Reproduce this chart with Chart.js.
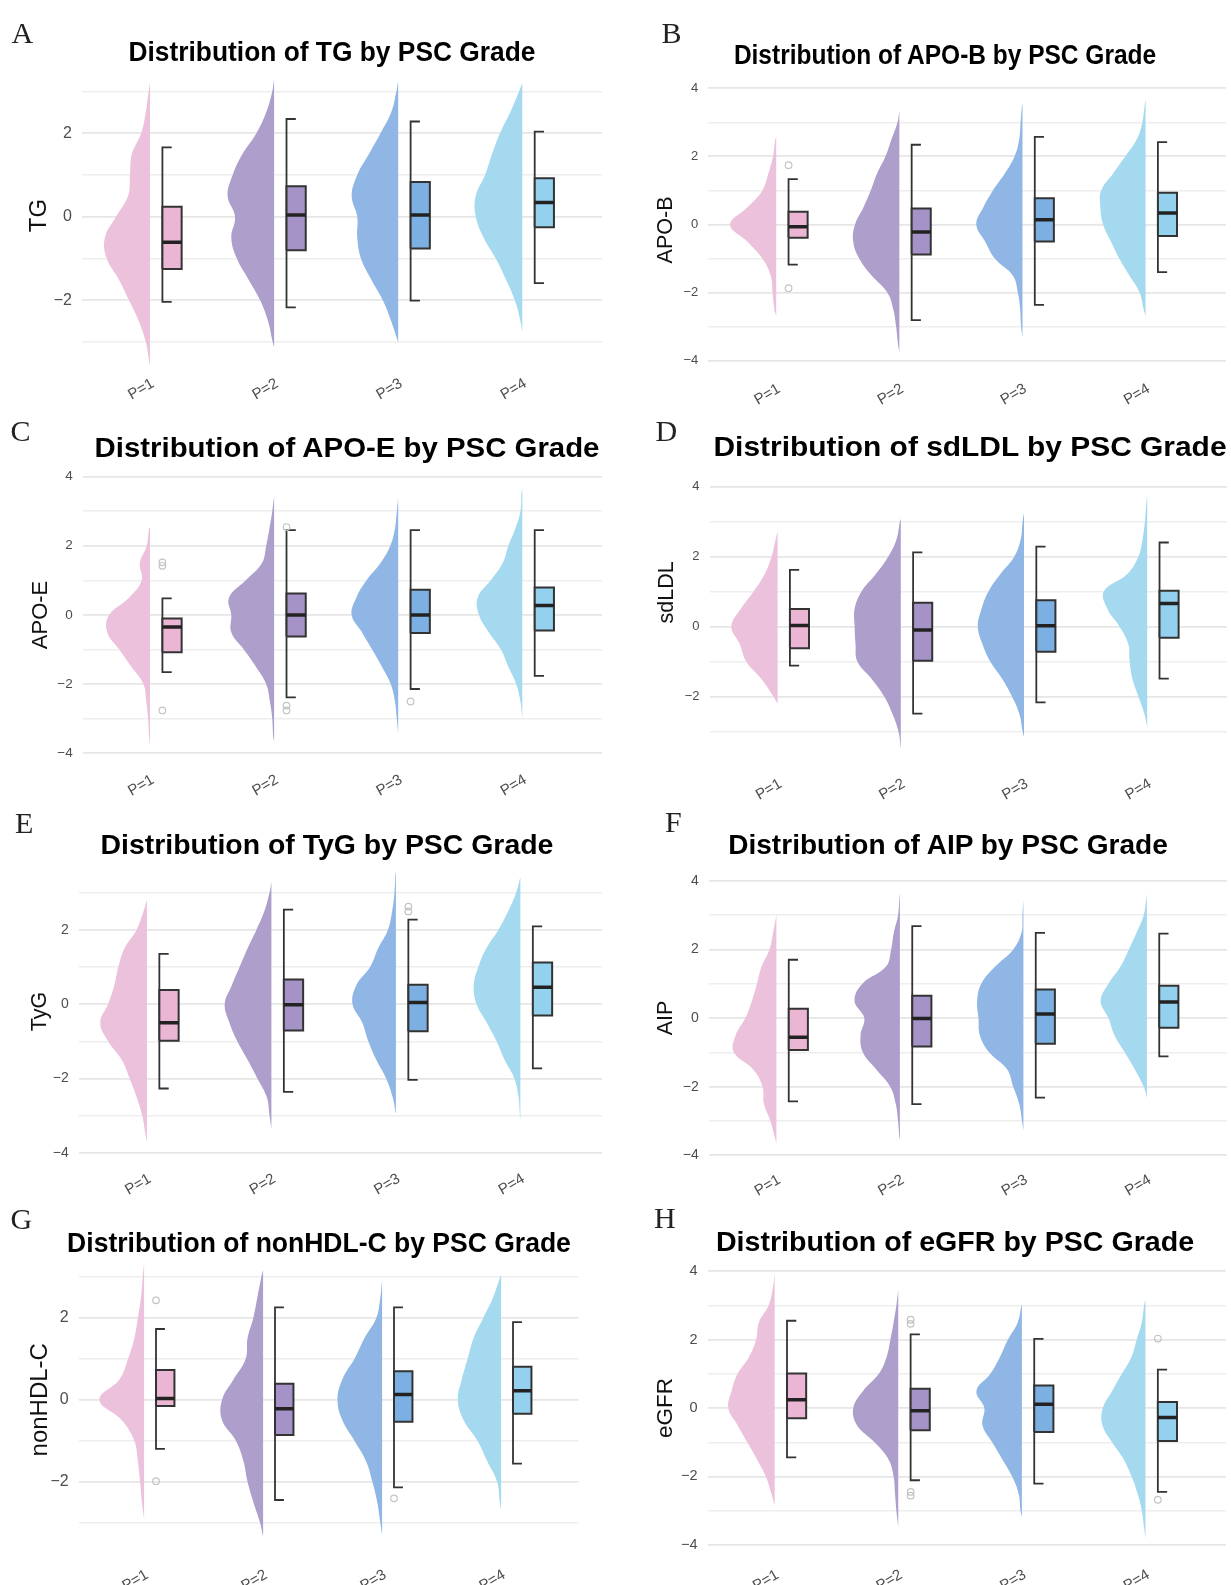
<!DOCTYPE html>
<html>
<head>
<meta charset="utf-8">
<script src="https://cdn.jsdelivr.net/npm/chart.js@4.4.0/dist/chart.umd.min.js"></script>
<style>
    html, body { margin: 0; padding: 0; background: #fff; }
    #page { position: relative; width: 1231px; height: 1585px; overflow: hidden; background: #fff; }
    #page canvas { position: absolute; }
    .ttl { position: absolute; font: bold 27px "Liberation Sans", Arial, sans-serif; line-height: 1; white-space: nowrap; color: #000; }
    .tag { position: absolute; font: 30px "Liberation Serif", "Times New Roman", serif; line-height: 1; color: #222; transform: translateY(-50%); }
</style>
</head>
<body>
<div id="page"></div>
<script>
// categories and the y levels the violin widths were read at
const grades = ['P=1', 'P=2', 'P=3', 'P=4'];
const levels = [-3.5, -3, -2.5, -2, -1.5, -1, -0.5, 0, 0.5, 1, 1.5, 2, 2.5, 3, 3.5];

// A - TG
const tgTicks = [-3, -2, -1, 0, 1, 2, 3];
const tgLo = [-3.56, -3.13, -3.0, -2.77];
const tgHi = [3.2, 3.3, 3.25, 3.2];
const tgDens = [
    [1, 9, 24, 45, 67, 93, 97, 73, 47, 43, 39, 19, 9, 3, 0],
    [0, 3, 13, 30, 55, 80, 92, 84, 100, 89, 68, 38, 17, 4, 0],
    [0, 2, 15, 33, 58, 80, 88, 88, 100, 88, 63, 38, 15, 4, 0],
    [0, 0, 4, 16, 35, 57, 83, 100, 100, 80, 65, 48, 26, 7, 0]
];
const tgBox = [[-2.04, -1.25, -0.61, 0.24, 1.66], [-2.17, -0.80, 0.04, 0.73, 2.34], [-2.01, -0.76, 0.04, 0.83, 2.28], [-1.59, -0.25, 0.34, 0.92, 2.04]];
const tgOut = [[], [], [], []];

// B - APO-B
const apobTicks = [-4, -3, -2, -1, 0, 1, 2, 3, 4];
const apobLo = [-2.68, -3.75, -3.31, -2.68];
const apobHi = [2.56, 3.34, 3.53, 3.68];
const apobDens = [
    [0, 0, 4, 8, 12, 30, 63, 100, 63, 30, 17, 7, 2, 0, 0],
    [3, 7, 13, 26, 60, 87, 100, 96, 78, 62, 48, 30, 17, 4, 0],
    [0, 3, 5, 10, 21, 60, 81, 100, 85, 64, 38, 17, 7, 4, 1],
    [0, 0, 4, 13, 35, 57, 75, 92, 98, 96, 70, 44, 19, 7, 2]
];
const apobBox = [[-1.18, -0.39, -0.07, 0.37, 1.33], [-2.81, -0.88, -0.22, 0.47, 2.34], [-2.36, -0.50, 0.14, 0.77, 2.57], [-1.40, -0.34, 0.34, 0.93, 2.42]];
const apobOut = [[1.74, -1.87], [], [], []];

// C - APO-E
const apoeTicks = [-4, -3, -2, -1, 0, 1, 2, 3, 4];
const apoeLo = [-3.8, -3.67, -3.43, -3.0];
const apoeHi = [2.52, 3.43, 3.38, 3.67];
const apoeDens = [
    [2, 4, 8, 14, 40, 66, 92, 88, 45, 18, 22, 7, 2, 0, 0],
    [2, 4, 9, 17, 39, 65, 92, 92, 97, 61, 26, 17, 10, 4, 0],
    [0, 3, 7, 16, 35, 56, 78, 100, 90, 68, 38, 17, 7, 3, 0],
    [0, 0, 4, 13, 30, 46, 72, 93, 96, 68, 42, 30, 15, 4, 2]
];
const apoeBox = [[-1.65, -1.08, -0.35, -0.10, 0.48], [-2.38, -0.62, 0.0, 0.62, 2.45], [-2.14, -0.52, 0.0, 0.73, 2.45], [-1.76, -0.45, 0.27, 0.79, 2.45]];
const apoeOut = [[1.52, 1.42, -2.76], [2.54, -2.62, -2.76], [-2.5], []];

// D - sdLDL
const sdldlTicks = [-3, -2, -1, 0, 1, 2, 3, 4];
const sdldlLo = [-2.21, -3.48, -3.15, -2.87];
const sdldlHi = [2.73, 3.08, 3.26, 3.76];
const sdldlDens = [
    [0, 0, 0, 9, 35, 68, 82, 100, 80, 52, 28, 13, 4, 0, 0],
    [1, 5, 18, 36, 63, 94, 98, 100, 100, 85, 54, 27, 9, 2, 0],
    [0, 3, 10, 26, 47, 73, 90, 100, 92, 77, 51, 21, 7, 3, 0],
    [0, 0, 6, 19, 32, 38, 41, 60, 86, 94, 43, 19, 10, 5, 2]
];
const sdldlBox = [[-1.12, -0.62, 0.03, 0.50, 1.62], [-2.49, -0.98, -0.10, 0.68, 2.12], [-2.17, -0.72, 0.02, 0.75, 2.28], [-1.49, -0.32, 0.66, 1.02, 2.40]];
const sdldlOut = [[], [], [], []];

// E - TyG
const tygTicks = [-4, -3, -2, -1, 0, 1, 2, 3];
const tygLo = [-3.71, -3.35, -2.96, -3.09];
const tygHi = [2.8, 3.28, 3.55, 3.42];
const tygDens = [
    [3, 10, 22, 37, 54, 83, 100, 83, 70, 61, 48, 22, 7, 0, 0],
    [0, 4, 10, 30, 51, 73, 90, 100, 85, 68, 51, 32, 15, 4, 0],
    [0, 0, 7, 21, 42, 59, 72, 93, 85, 55, 38, 17, 8, 3, 1],
    [0, 1, 4, 13, 34, 51, 72, 94, 100, 90, 73, 47, 26, 9, 0]
];
const tygBox = [[-2.27, -0.99, -0.50, 0.38, 1.35], [-2.36, -0.71, -0.02, 0.66, 2.54], [-2.04, -0.73, 0.04, 0.52, 2.27], [-1.73, -0.31, 0.45, 1.12, 2.09]];
const tygOut = [[], [], [2.62, 2.49], []];

// F - AIP
const aipTicks = [-4, -3, -2, -1, 0, 1, 2, 3, 4];
const aipLo = [-3.66, -3.51, -3.27, -2.33];
const aipHi = [3.0, 3.64, 3.44, 3.64];
const aipDens = [
    [3, 13, 27, 30, 50, 92, 88, 67, 53, 42, 32, 15, 7, 0, 0],
    [1, 4, 9, 21, 51, 80, 85, 77, 98, 81, 30, 19, 13, 4, 1],
    [0, 3, 9, 22, 35, 74, 94, 97, 100, 91, 61, 22, 4, 2, 0],
    [0, 0, 0, 7, 26, 48, 70, 83, 100, 83, 57, 39, 22, 7, 1]
];
const aipBox = [[-2.43, -0.93, -0.56, 0.27, 1.70], [-2.51, -0.83, -0.01, 0.65, 2.68], [-2.32, -0.75, 0.12, 0.83, 2.48], [-1.12, -0.28, 0.47, 0.94, 2.46]];
const aipOut = [[], [], [], []];

// G - nonHDL-C
const nonhdlTicks = [-3, -2, -1, 0, 1, 2, 3];
const nonhdlLo = [-2.91, -3.35, -3.31, -2.71];
const nonhdlHi = [3.37, 3.17, 2.93, 3.05];
const nonhdlDens = [
    [0, 0, 5, 9, 14, 22, 50, 100, 55, 36, 22, 14, 7, 3, 0],
    [0, 7, 22, 35, 44, 61, 92, 92, 66, 39, 35, 22, 13, 4, 0],
    [0, 4, 11, 22, 36, 62, 89, 100, 89, 62, 40, 13, 4, 0, 0],
    [0, 0, 3, 9, 31, 53, 84, 97, 88, 75, 62, 40, 18, 2, 0]
];
const nonhdlBox = [[-1.20, -0.15, 0.03, 0.73, 1.73], [-2.45, -0.86, -0.22, 0.39, 2.26], [-2.14, -0.54, 0.13, 0.70, 2.26], [-1.56, -0.34, 0.22, 0.81, 1.90]];
const nonhdlOut = [[2.43, -1.99], [], [-2.41], []];

// H - eGFR
const egfrTicks = [-4, -3, -2, -1, 0, 1, 2, 3, 4];
const egfrLo = [-2.85, -3.47, -3.19, -3.81];
const egfrHi = [3.94, 3.46, 3.03, 3.18];
const egfrDens = [
    [0, 0, 7, 19, 38, 59, 80, 100, 93, 80, 55, 40, 34, 13, 4],
    [0, 4, 7, 10, 21, 51, 89, 97, 76, 42, 25, 17, 10, 4, 0],
    [0, 3, 7, 21, 42, 64, 85, 81, 98, 68, 47, 30, 9, 1, 0],
    [3, 8, 17, 30, 47, 72, 93, 92, 72, 51, 30, 19, 8, 3, 0]
];
const egfrBox = [[-1.44, -0.30, 0.24, 1.01, 2.55], [-2.11, -0.65, -0.08, 0.56, 2.15], [-2.21, -0.70, 0.11, 0.66, 2.02], [-2.45, -0.96, -0.28, 0.18, 1.12]];
const egfrOut = [[], [2.58, 2.46, -2.45, -2.56], [], [2.03, -2.68]];

const panels = [
    { tag: 'A', name: 'TG', ticks: tgTicks, lo: tgLo, hi: tgHi, dens: tgDens, box: tgBox, out: tgOut },
    { tag: 'B', name: 'APO-B', ticks: apobTicks, lo: apobLo, hi: apobHi, dens: apobDens, box: apobBox, out: apobOut },
    { tag: 'C', name: 'APO-E', ticks: apoeTicks, lo: apoeLo, hi: apoeHi, dens: apoeDens, box: apoeBox, out: apoeOut },
    { tag: 'D', name: 'sdLDL', ticks: sdldlTicks, lo: sdldlLo, hi: sdldlHi, dens: sdldlDens, box: sdldlBox, out: sdldlOut },
    { tag: 'E', name: 'TyG', ticks: tygTicks, lo: tygLo, hi: tygHi, dens: tygDens, box: tygBox, out: tygOut },
    { tag: 'F', name: 'AIP', ticks: aipTicks, lo: aipLo, hi: aipHi, dens: aipDens, box: aipBox, out: aipOut },
    { tag: 'G', name: 'nonHDL-C', ticks: nonhdlTicks, lo: nonhdlLo, hi: nonhdlHi, dens: nonhdlDens, box: nonhdlBox, out: nonhdlOut },
    { tag: 'H', name: 'eGFR', ticks: egfrTicks, lo: egfrLo, hi: egfrHi, dens: egfrDens, box: egfrBox, out: egfrOut }
];

// where each panel sits on the page (pixels)
const layout = {
    A: { col: 0, left: 82, right: 602, cat1: 150, step: 124.1, zero: 214.4, unit: 42.4, yMin: -3.75, yMax: 3.81, labelY: 381.7, axisX: 39.8, tickSize: 16, axisSize: 24, head: [331.7, 51.7, 407], tagAt: [11.5, 32.5] },
    B: { col: 1, left: 708.3, right: 1227, cat1: 776.4, step: 123.4, zero: 223, unit: 34.4, yMin: -4.42, yMax: 4.1, labelY: 387, axisX: 666, tickSize: 13, axisSize: 21.5, head: [944.7, 55, 423.2], tagAt: [661.5, 32.5] },
    C: { col: 0, left: 82.7, right: 602, cat1: 150, step: 124.1, zero: 613.3, unit: 35, yMin: -4.1, yMax: 4.1, labelY: 778, axisX: 41.3, tickSize: 13.5, axisSize: 22, head: [347.4, 448, 505.9], tagAt: [10.5, 430.8] },
    D: { col: 1, left: 709.5, right: 1227, cat1: 777.6, step: 123.2, zero: 625.3, unit: 35.3, yMin: -3.7, yMax: 5.65, labelY: 782, axisX: 667, tickSize: 13, axisSize: 21.5, head: [970.3, 447, 513.8], tagAt: [655.5, 430.8] },
    E: { col: 0, left: 78.7, right: 602, cat1: 146.9, step: 124.5, zero: 1002, unit: 37.7, yMin: -4.1, yMax: 3.7, labelY: 1177, axisX: 40.4, tickSize: 14, axisSize: 21.5, head: [326.8, 845, 452.7], tagAt: [15, 822.5] },
    F: { col: 1, left: 708.7, right: 1227, cat1: 776.4, step: 123.5, zero: 1016, unit: 34.8, yMin: -4.1, yMax: 4.1, labelY: 1178, axisX: 666, tickSize: 14, axisSize: 21.5, head: [947.6, 845, 441], tagAt: [665, 821.7] },
    G: { col: 0, left: 78.7, right: 578.7, cat1: 144.1, step: 119, zero: 1397, unit: 41.7, yMin: -3.5, yMax: 3.5, labelY: 1573, axisX: 40.4, tickSize: 16, axisSize: 24, head: [318.9, 1242.5, 504], tagAt: [10.5, 1219] },
    H: { col: 1, left: 707.5, right: 1227, cat1: 774.8, step: 123.9, zero: 1405.7, unit: 34.8, yMin: -4.1, yMax: 4.1, labelY: 1573, axisX: 666, tickSize: 14.5, axisSize: 22.5, head: [954.5, 1241.7, 478.3], tagAt: [654, 1217.5] }
};

const violinColors = ['#ecc1db', '#ae9ecc', '#8fb6e4', '#a5d9ef'];
const boxColors = ['#ebb6d4', '#a593c8', '#7db0e2', '#93d1ee'];

// widths in x units (one unit = distance between grades)
const VIOLIN_W = 0.375;
const BOX_L = 0.10;
const BOX_R = 0.255;
const CAP = 0.075;

Chart.defaults.font.family = '"Liberation Sans", Arial, sans-serif';

const page = document.getElementById('page');

function violinPoints(c, lo, hi, dens) {
    const pts = [{ x: c, y: hi }];
    for (let k = levels.length - 1; k >= 0; k--) {
        const v = levels[k];
        if (v > lo && v < hi) pts.push({ x: c - dens[k] / 100 * VIOLIN_W, y: v });
    }
    pts.push({ x: c, y: lo });
    return pts;
}

function buildDatasets(p) {
    const sets = [];
    grades.forEach((g, i) => {
        const c = i + 1;
        const [wLo, q1, med, q3, wHi] = p.box[i];
        const bl = c + BOX_L, br = c + BOX_R;

        // half violin on the left of the grade position
        sets.push({
            data: violinPoints(c, p.lo[i], p.hi[i], p.dens[i]),
            backgroundColor: violinColors[i], borderWidth: 0, fill: 'shape',
            tension: 0.4, pointRadius: 0, order: 3
        });
        // whisker bracket on the left edge of the box
        sets.push({
            data: [{ x: bl + CAP, y: wLo }, { x: bl, y: wLo }, { x: bl, y: wHi }, { x: bl + CAP, y: wHi }],
            borderColor: '#333333', borderWidth: 1.8, fill: false, tension: 0, pointRadius: 0, order: 2
        });
        sets.push({
            data: [{ x: bl, y: q1 }, { x: br, y: q1 }, { x: br, y: q3 }, { x: bl, y: q3 }, { x: bl, y: q1 }],
            backgroundColor: boxColors[i], borderColor: '#333333', borderWidth: 2,
            fill: 'shape', tension: 0, pointRadius: 0, order: 1
        });
        sets.push({
            data: [{ x: bl, y: med }, { x: br, y: med }],
            borderColor: '#222222', borderWidth: 3.5, fill: false, tension: 0, pointRadius: 0, order: 0
        });
        if (p.out[i].length) {
            sets.push({
                data: p.out[i].map(v => ({ x: bl, y: v })),
                showLine: false, pointRadius: 3.3, pointBorderWidth: 1.2,
                pointBorderColor: '#c4c4c4', pointBackgroundColor: 'rgba(0,0,0,0)', order: 0
            });
        }
    });
    return sets;
}

function minus(v) {
    return v < 0 ? '\u2212' + (-v) : String(v);
}

panels.forEach(p => {
    const L = layout[p.tag];
    const cl = L.col * 615;
    const cw = L.col ? 616 : 615;
    const top = L.zero - L.yMax * L.unit;
    const bottom = L.zero - L.yMin * L.unit;
    const xAxisH = 60;
    const ct = Math.floor(top - 14);
    const ch = Math.ceil(bottom + xAxisH - ct);
    const xMin = 1 - (L.cat1 - L.left) / L.step;
    const xMax = xMin + (L.right - L.left) / L.step;

    const canvas = document.createElement('canvas');
    canvas.width = cw;
    canvas.height = ch;
    canvas.style.left = cl + 'px';
    canvas.style.top = ct + 'px';
    canvas.style.width = cw + 'px';
    canvas.style.height = ch + 'px';
    page.appendChild(canvas);

    new Chart(canvas, {
        type: 'line',
        data: { datasets: buildDatasets(p) },
        options: {
            responsive: false,
            animation: false,
            events: [],
            layout: {
                padding: { top: top - ct, bottom: ct + ch - bottom - xAxisH, left: 0, right: cl + cw - L.right }
            },
            plugins: { legend: { display: false }, tooltip: { enabled: false } },
            scales: {
                x: {
                    type: 'linear', min: xMin, max: xMax,
                    afterBuildTicks: s => { s.ticks = grades.map((g, i) => ({ value: i + 1 })); },
                    afterFit: s => { s.height = xAxisH; },
                    grid: { display: false },
                    border: { display: false },
                    ticks: {
                        callback: v => grades[Math.round(v) - 1],
                        minRotation: 30, maxRotation: 30,
                        padding: L.labelY - 15 - bottom, labelOffset: 3,
                        color: '#4f4f4f', font: { size: 15 }
                    }
                },
                y: {
                    type: 'linear', min: L.yMin, max: L.yMax,
                    afterBuildTicks: s => { s.ticks = p.ticks.map(v => ({ value: v })); },
                    afterFit: s => { s.width = L.left - cl; },
                    border: { display: false },
                    grid: {
                        drawTicks: false,
                        color: ctx => ctx.tick && ctx.tick.value % 2 === 0 ? '#e6e6e6' : '#eeeeee',
                        lineWidth: ctx => ctx.tick && ctx.tick.value % 2 === 0 ? 1.8 : 1.4
                    },
                    ticks: {
                        callback: v => (v % 2 === 0 ? minus(v) : ''),
                        padding: 10, color: '#4d4d4d', font: { size: L.tickSize }
                    },
                    title: {
                        display: true, text: p.name, color: '#111111',
                        font: { size: L.axisSize },
                        padding: { top: L.axisX - cl - L.axisSize * 0.6, bottom: 0 }
                    }
                }
            }
        }
    });
});

// panel titles and letters
const measure = document.createElement('canvas').getContext('2d');
measure.font = 'bold 27px "Liberation Sans", Arial, sans-serif';
panels.forEach(p => {
    const L = layout[p.tag];
    const text = 'Distribution of ' + p.name + ' by PSC Grade';
    const k = L.head[2] / measure.measureText(text).width;
    const t = document.createElement('div');
    t.className = 'ttl';
    t.textContent = text;
    t.style.left = L.head[0] + 'px';
    t.style.top = L.head[1] + 'px';
    t.style.transform = 'translate(-50%, -50%) scaleX(' + k.toFixed(3) + ')';
    page.appendChild(t);

    const tag = document.createElement('div');
    tag.className = 'tag';
    tag.textContent = p.tag;
    tag.style.left = L.tagAt[0] + 'px';
    tag.style.top = L.tagAt[1] + 'px';
    page.appendChild(tag);
});
</script>
</body>
</html>
